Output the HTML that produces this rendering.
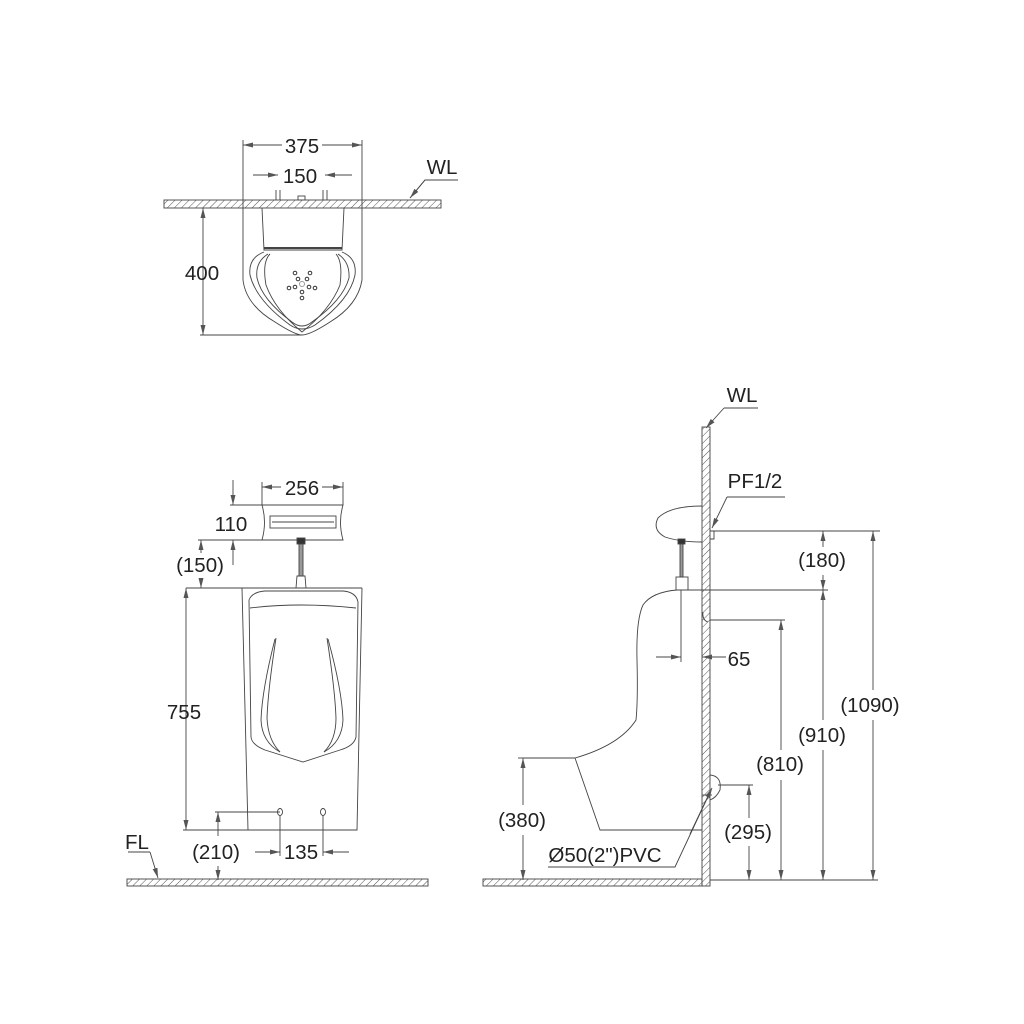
<!DOCTYPE html>
<html><head><meta charset="utf-8"><style>
html,body{margin:0;padding:0;background:#fff;}
svg{display:block;}
text{font-family:"Liberation Sans","DejaVu Sans",sans-serif;font-size:20.5px;fill:#222;}
</style></head><body>
<svg width="1024" height="1024" viewBox="0 0 1024 1024" xmlns="http://www.w3.org/2000/svg">
<defs>
<pattern id="h" width="5" height="5" patternUnits="userSpaceOnUse" patternTransform="rotate(45)">
<line x1="0" y1="0" x2="0" y2="5" stroke="#555" stroke-width="1"/>
</pattern>
<marker id="a" viewBox="0 0 10 6" refX="10" refY="3" markerWidth="10" markerHeight="6" orient="auto-start-reverse" markerUnits="userSpaceOnUse">
<path d="M0,0.5 L10,3 L0,5.5 z" fill="#555"/>
</marker>
</defs>
<g fill="none" stroke="#444" stroke-width="0.9">

<!-- ===== TOP VIEW ===== -->
<rect x="164" y="200" width="277" height="8" fill="url(#h)" stroke="#444"/>
<line x1="243" y1="140" x2="243" y2="208"/>
<line x1="362" y1="140" x2="362" y2="208"/>
<line x1="243" y1="145" x2="282" y2="145" marker-start="url(#a)"/>
<line x1="322" y1="145" x2="362" y2="145" marker-end="url(#a)"/>
<line x1="253" y1="175" x2="278" y2="175" marker-end="url(#a)"/>
<line x1="352" y1="175" x2="325" y2="175" marker-end="url(#a)"/>
<path d="M276,190 L276,200 M280,190 L280,200 M323,190 L323,200 M327,190 L327,200"/>
<rect x="298" y="196" width="7" height="4"/>
<path d="M410,198 L425,180 L458,180"/>
<line x1="425" y1="180" x2="410" y2="198" marker-end="url(#a)"/>
<path d="M243,208 L243,280 Q246,305 275,322 Q295,335 302,335 Q310,335 330,322 Q358,305 362,280 L362,208"/>
<path d="M262,208 L264,250 L342,250 L344,208"/>
<line x1="264" y1="248" x2="342" y2="248" stroke-width="2"/>
<path d="M264,252 Q248,258 250,275 Q256,300 290,325 Q302,333 315,325 Q350,300 355,275 Q357,258 342,252"/>
<path d="M268,254 Q255,262 257,278 Q262,300 292,322 Q302,330 312,322 Q343,300 349,278 Q350,262 338,254"/>
<path d="M270,254 Q262,262 266,285 Q275,310 302,332 Q330,310 340,285 Q343,262 336,254"/>
<g stroke="#333" stroke-width="1">
<circle cx="295" cy="273" r="1.8"/><circle cx="310" cy="273" r="1.8"/>
<circle cx="298" cy="279" r="1.8"/><circle cx="307" cy="279" r="1.8"/>
<circle cx="302" cy="284" r="2.5" stroke="#999"/>
<circle cx="289" cy="288" r="1.8"/><circle cx="295" cy="287" r="1.8"/>
<circle cx="309" cy="287" r="1.8"/><circle cx="315" cy="288" r="1.8"/>
<circle cx="302" cy="292" r="1.8"/><circle cx="302" cy="298" r="1.8"/>
</g>
<line x1="203" y1="208" x2="203" y2="335" marker-start="url(#a)" marker-end="url(#a)"/>
<line x1="200" y1="335" x2="302" y2="335"/>

<!-- ===== FRONT VIEW ===== -->
<path d="M262,505 L343,505 Q338,522 343,540 L262,540 Q267,522 262,505 z"/>
<rect x="270" y="516" width="66" height="12"/>
<line x1="272" y1="522" x2="334" y2="522"/>
<line x1="262" y1="482" x2="262" y2="505"/>
<line x1="343" y1="482" x2="343" y2="505"/>
<line x1="262" y1="487" x2="281" y2="487" marker-start="url(#a)"/>
<line x1="322" y1="487" x2="343" y2="487" marker-end="url(#a)"/>
<line x1="230" y1="505" x2="262" y2="505"/>
<line x1="198" y1="540" x2="262" y2="540"/>
<line x1="233" y1="480" x2="233" y2="505" marker-end="url(#a)"/>
<line x1="233" y1="565" x2="233" y2="540" marker-end="url(#a)"/>
<line x1="201" y1="540" x2="201" y2="553" marker-start="url(#a)"/>
<line x1="201" y1="578" x2="201" y2="588" marker-end="url(#a)"/>
<rect x="297" y="538" width="8" height="6" fill="#333"/>
<rect x="299" y="544" width="4" height="32" fill="#999"/>
<path d="M296,588 L297,576 L305,576 L306,588"/>
<line x1="186" y1="588" x2="362" y2="588"/>
<path d="M242,588 L248,830 L357,830 L362,588"/>
<path d="M249,600 Q252,592 265,591 L343,591 Q356,592 358,602 L356,737 Q354,746 340,750 L303,762 L265,750 Q252,745 251,737 z"/>
<path d="M250,608 Q300,602 356,608"/>
<path d="M275,639 Q262,690 261,720 Q262,742 280,752"/>
<path d="M276,638 Q268,690 267,718 Q268,740 280,752"/>
<path d="M328,639 Q342,690 343,720 Q342,742 324,752"/>
<path d="M327,638 Q335,690 336,718 Q336,740 324,752"/>
<ellipse cx="280" cy="812" rx="2.5" ry="3.5"/>
<ellipse cx="323" cy="812" rx="2.5" ry="3.5"/>
<line x1="186" y1="588" x2="186" y2="830" marker-start="url(#a)" marker-end="url(#a)"/>
<line x1="183" y1="830" x2="248" y2="830"/>
<line x1="215" y1="812" x2="280" y2="812"/>
<line x1="218" y1="812" x2="218" y2="836" marker-start="url(#a)"/>
<line x1="218" y1="866" x2="218" y2="880" marker-end="url(#a)"/>
<line x1="280" y1="815" x2="280" y2="856"/>
<line x1="323" y1="815" x2="323" y2="856"/>
<line x1="255" y1="852" x2="280" y2="852" marker-end="url(#a)"/>
<line x1="349" y1="852" x2="323" y2="852" marker-end="url(#a)"/>
<rect x="127" y="879" width="301" height="7" fill="url(#h)" stroke="#444"/>
<path d="M128,852 L150,852"/>
<line x1="150" y1="852" x2="158" y2="878" marker-end="url(#a)"/>

<!-- ===== SIDE VIEW ===== -->
<rect x="702" y="427" width="8" height="459" fill="url(#h)" stroke="#444"/>
<rect x="483" y="879" width="219" height="7" fill="url(#h)" stroke="#444"/>
<path d="M724,408 L758,408"/>
<line x1="724" y1="408" x2="706" y2="428" marker-end="url(#a)"/>
<path d="M702,506 Q670,506 658,518 Q652,530 665,537 Q680,542 702,542"/>
<rect x="678" y="539" width="7" height="5" fill="#333"/>
<rect x="680" y="544" width="3" height="33" fill="#999"/>
<rect x="676" y="577" width="12" height="13"/>
<path d="M702,590 L677,590 Q652,592 643,605 Q636,620 637,660 Q638,700 636,720 Q620,745 575,758 L523,758"/>
<path d="M575,758 L600,830 L702,830"/>
<line x1="681" y1="590" x2="681" y2="662"/>
<path d="M703,612 Q702,620 708,622"/>
<path d="M710,775 Q722,776 720,790 Q716,798 710,800"/>
<line x1="702" y1="795" x2="712" y2="795"/>
<path d="M710,531 L714,531 L714,539 L710,539"/>
<path d="M785,497 L727,497"/>
<line x1="727" y1="497" x2="712" y2="528" marker-end="url(#a)"/>
<path d="M548,867 L675,867 L711,790"/>
<line x1="690" y1="834" x2="712" y2="788" marker-end="url(#a)"/>
<line x1="714" y1="531" x2="880" y2="531"/>
<line x1="702" y1="590" x2="828" y2="590"/>
<line x1="710" y1="620" x2="785" y2="620"/>
<line x1="718" y1="785" x2="753" y2="785"/>
<line x1="710" y1="880" x2="878" y2="880"/>
<line x1="518" y1="758" x2="523" y2="758"/>
<line x1="823" y1="531" x2="823" y2="547" marker-start="url(#a)"/>
<line x1="823" y1="575" x2="823" y2="590" marker-end="url(#a)"/>
<line x1="823" y1="590" x2="823" y2="720" marker-start="url(#a)"/>
<line x1="823" y1="750" x2="823" y2="880" marker-end="url(#a)"/>
<line x1="873" y1="531" x2="873" y2="690" marker-start="url(#a)"/>
<line x1="873" y1="720" x2="873" y2="880" marker-end="url(#a)"/>
<line x1="781" y1="620" x2="781" y2="750" marker-start="url(#a)"/>
<line x1="781" y1="780" x2="781" y2="880" marker-end="url(#a)"/>
<line x1="749" y1="785" x2="749" y2="818" marker-start="url(#a)"/>
<line x1="749" y1="846" x2="749" y2="880" marker-end="url(#a)"/>
<line x1="523" y1="758" x2="523" y2="805" marker-start="url(#a)"/>
<line x1="523" y1="835" x2="523" y2="880" marker-end="url(#a)"/>
<line x1="656" y1="657" x2="681" y2="657" marker-end="url(#a)"/>
<line x1="726" y1="657" x2="702" y2="657" marker-end="url(#a)"/>
</g>

<g>
<text x="302" y="153" text-anchor="middle">375</text>
<text x="300" y="183" text-anchor="middle">150</text>
<text x="442" y="174" text-anchor="middle">WL</text>
<text x="202" y="280" text-anchor="middle">400</text>
<text x="302" y="495" text-anchor="middle">256</text>
<text x="231" y="531" text-anchor="middle">110</text>
<text x="200" y="572" text-anchor="middle">(150)</text>
<text x="184" y="719" text-anchor="middle">755</text>
<text x="216" y="859" text-anchor="middle">(210)</text>
<text x="301" y="859" text-anchor="middle">135</text>
<text x="137" y="849" text-anchor="middle">FL</text>
<text x="742" y="402" text-anchor="middle">WL</text>
<text x="755" y="488" text-anchor="middle">PF1/2</text>
<text x="822" y="567" text-anchor="middle">(180)</text>
<text x="870" y="712" text-anchor="middle">(1090)</text>
<text x="822" y="742" text-anchor="middle">(910)</text>
<text x="780" y="771" text-anchor="middle">(810)</text>
<text x="748" y="839" text-anchor="middle">(295)</text>
<text x="522" y="827" text-anchor="middle">(380)</text>
<text x="739" y="666" text-anchor="middle">65</text>
<text x="605" y="862" text-anchor="middle">Ø50(2")PVC</text>
</g>
</svg>
</body></html>
